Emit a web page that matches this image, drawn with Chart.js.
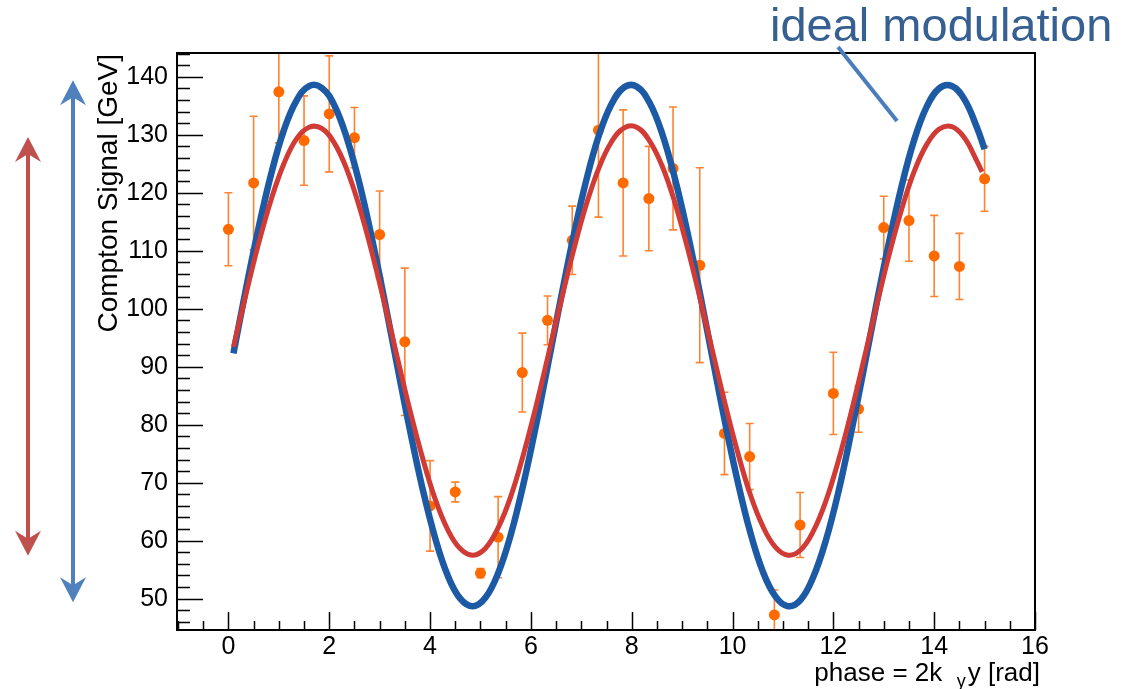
<!DOCTYPE html>
<html>
<head>
<meta charset="utf-8">
<script src="https://cdn.jsdelivr.net/npm/chart.js@4.4.1/dist/chart.umd.min.js"></script>
<style>
  html, body { margin: 0; padding: 0; background: #fff; }
  #box { width: 1130px; height: 689px; }
</style>
</head>
<body>
<div id="box"><canvas id="grafico"></canvas></div>
<script>
// measured points with errors
const dataX = [0, 0.5, 1, 1.5, 2, 2.5, 3, 3.5, 4, 4.5, 5, 5.35, 5.83, 6.33, 6.82, 7.34, 7.83, 8.34, 8.82, 9.35,
    9.84, 10.34, 10.83, 11.34, 12.0, 12.5, 13.0, 13.5, 14.0, 14.5, 15.0];
const dataY = [113.7, 121.7, 137.4, 129.0, 133.6, 129.5, 112.8, 94.3, 66.0, 68.4, 54.4, 60.6, 89.0, 98.0, 111.8, 130.8,
    121.7, 119.0, 124.2, 107.5, 78.5, 74.5, 47.2, 62.7, 85.4, 82.7, 114.0, 115.2, 109.1, 107.3, 122.4];
const dataErr = [6.3, 11.5, 8.8, 7.7, 10.0, 5.2, 7.5, 12.7, 7.8, 1.7, 0.8, 7.0, 6.8, 4.2, 5.9, 15.0,
    12.6, 9.0, 10.6, 16.8, 7.1, 5.7, 4.3, 5.6, 7.1, 4.0, 5.4, 7.0, 7.0, 5.7, 5.6];

// curves
const curveX = [0.1, 0.35, 0.6, 0.85, 1.1, 1.35, 1.6, 1.85, 2.1, 2.35, 2.6, 2.85, 3.1, 3.35, 3.6, 3.85, 4.1, 4.35, 4.6, 4.85,
    5.1, 5.35, 5.6, 5.85, 6.1, 6.35, 6.6, 6.85, 7.1, 7.35, 7.6, 7.85, 8.1, 8.35, 8.6, 8.85, 9.1, 9.35, 9.6, 9.85,
    10.1, 10.35, 10.6, 10.85, 11.1, 11.35, 11.6, 11.85, 12.1, 12.35, 12.6, 12.85, 13.1, 13.35, 13.6, 13.85, 14.1, 14.35, 14.6, 14.85, 15.0];
const idealY = [92.3, 103.5, 114.0, 123.3, 130.8, 135.9, 138.4, 138.1, 135.1, 129.4,
    121.6, 112.0, 101.3, 90.1, 79.1, 69.0, 60.5, 54.0, 50.0, 48.7,
    50.2, 54.4, 61.0, 69.7, 79.8, 90.9, 102.0, 112.7, 122.2, 129.9,
    135.3, 138.2, 138.3, 135.6, 130.3, 122.7, 113.4, 102.8, 91.6, 80.5,
    70.3, 61.5, 54.7, 50.4, 48.7, 49.8, 53.7, 60.0, 68.4, 78.5,
    89.4, 100.6, 111.3, 121.0, 129.0, 134.8, 138.0, 138.4, 136.1, 131.2, 127.5];
const fitY = [93.4, 102.6, 111.3, 118.9, 125.0, 129.3, 131.3, 131.1, 128.6, 124.0,
    117.5, 109.6, 100.8, 91.6, 82.5, 74.3, 67.2, 61.9, 58.6, 57.5,
    58.7, 62.2, 67.6, 74.8, 83.1, 92.2, 101.4, 110.2, 118.0, 124.3,
    128.8, 131.2, 131.3, 129.0, 124.7, 118.5, 110.7, 102.0, 92.8, 83.7,
    75.3, 68.0, 62.5, 58.9, 57.5, 58.4, 61.6, 66.8, 73.8, 82.0,
    91.0, 100.2, 109.1, 117.0, 123.6, 128.3, 131.0, 131.4, 129.5, 125.4, 123.6];

const xTicks = [0, 2, 4, 6, 8, 10, 12, 14, 16];
const yTicks = [50, 60, 70, 80, 90, 100, 110, 120, 130, 140];

// amplitude arrows on the left (top, bottom in GeV)
const fitRange = [129.6, 57.4];
const idealRange = [139.4, 49.4];

const fonte = "'Liberation Sans', Arial, Helvetica, sans-serif";
const azul = '#1d5aa5';
const vermelho = '#d13b36';
const laranja = '#ff6a00';

const toPoints = (xs, ys) => ys.map((y, i) => ({ x: xs[i], y: y }));

const drawArrow = (ctx, x, yTop, yBot, cor) => {
    const len = 25, half = 13, notch = 17;
    ctx.save();
    ctx.strokeStyle = cor;
    ctx.fillStyle = cor;
    ctx.lineWidth = 4;
    ctx.beginPath();
    ctx.moveTo(x, yTop + notch - 2);
    ctx.lineTo(x, yBot - notch + 2);
    ctx.stroke();
    [[yTop, 1], [yBot, -1]].forEach(([y, d]) => {
        ctx.beginPath();
        ctx.moveTo(x, y);
        ctx.lineTo(x - half, y + d * len);
        ctx.lineTo(x, y + d * notch);
        ctx.lineTo(x + half, y + d * len);
        ctx.closePath();
        ctx.fill();
    });
    ctx.restore();
};

const rootStyle = {
    id: 'rootStyle',
    beforeDatasetsDraw(chart) {
        const { ctx, chartArea: a, scales: { x, y } } = chart;
        ctx.save();
        ctx.beginPath();
        ctx.rect(a.left, a.top, a.right - a.left, a.bottom - a.top);
        ctx.clip();
        ctx.strokeStyle = '#ff8330';
        ctx.lineWidth = 1.6;
        dataX.forEach((v, i) => {
            const px = x.getPixelForValue(v);
            const y1 = y.getPixelForValue(dataY[i] + dataErr[i]);
            const y2 = y.getPixelForValue(dataY[i] - dataErr[i]);
            ctx.beginPath();
            ctx.moveTo(px, y1); ctx.lineTo(px, y2);
            ctx.moveTo(px - 4, y1); ctx.lineTo(px + 4, y1);
            ctx.moveTo(px - 4, y2); ctx.lineTo(px + 4, y2);
            ctx.stroke();
        });
        ctx.restore();
    },
    afterDatasetsDraw(chart) {
        const { ctx, chartArea: a, scales: { x, y } } = chart;
        ctx.save();
        ctx.strokeStyle = '#000';
        ctx.lineWidth = 1.5;
        ctx.beginPath();
        for (let v = 46; v <= 144; v += 2) {
            const py = Math.round(y.getPixelForValue(v)) + 0.5;
            const len = v % 10 === 0 ? 26 : 13;
            ctx.moveTo(a.left, py); ctx.lineTo(a.left + len, py);
        }
        for (let v = -1; v <= 16; v += 0.5) {
            const px = Math.round(x.getPixelForValue(v)) + 0.5;
            const len = v % 2 === 0 ? 18 : 9;
            ctx.moveTo(px, a.bottom); ctx.lineTo(px, a.bottom - len);
        }
        ctx.stroke();
        ctx.lineWidth = 2;
        ctx.strokeRect(a.left, a.top, a.right - a.left, a.bottom - a.top);
        ctx.restore();
    },
    afterDraw(chart) {
        const { ctx, chartArea: a, scales: { y } } = chart;
        ctx.save();
        ctx.fillStyle = '#000';
        // y title
        ctx.translate(117, 54);
        ctx.rotate(-Math.PI / 2);
        ctx.font = '28px ' + fonte;
        ctx.textAlign = 'right';
        ctx.textBaseline = 'alphabetic';
        ctx.fillText('Compton Signal [GeV]', 0, 0);
        ctx.restore();

        // x title with subscript
        ctx.save();
        ctx.fillStyle = '#000';
        ctx.textBaseline = 'alphabetic';
        ctx.textAlign = 'left';
        const p1 = 'phase = 2k  ', p2 = 'y', p3 = 'y [rad]';
        ctx.font = '26px ' + fonte;
        const w1 = ctx.measureText(p1).width, w3 = ctx.measureText(p3).width;
        ctx.font = '18px ' + fonte;
        const w2 = ctx.measureText(p2).width;
        let x0 = a.right + 5 - (w1 + w2 + w3 + 2);
        ctx.font = '26px ' + fonte;
        ctx.fillText(p1, x0, 681);
        ctx.font = '18px ' + fonte;
        ctx.fillText(p2, x0 + w1, 687);
        ctx.font = '26px ' + fonte;
        ctx.fillText(p3, x0 + w1 + w2 + 2, 681);
        ctx.restore();

        drawArrow(ctx, 28, y.getPixelForValue(fitRange[0]), y.getPixelForValue(fitRange[1]), '#c0504d');
        drawArrow(ctx, 73, y.getPixelForValue(idealRange[0]), y.getPixelForValue(idealRange[1]), '#4f81bd');

        // annotation
        ctx.save();
        ctx.strokeStyle = '#4a7ebb';
        ctx.lineWidth = 4;
        ctx.beginPath();
        ctx.moveTo(838, 47);
        ctx.lineTo(897, 121);
        ctx.stroke();
        ctx.fillStyle = '#376092';
        ctx.font = '47px ' + fonte;
        ctx.textAlign = 'left';
        ctx.textBaseline = 'alphabetic';
        ctx.fillText('ideal modulation', 770, 41);
        ctx.restore();
    }
};

const ctx = document.getElementById('grafico').getContext('2d');
new Chart(ctx, {
    type: 'scatter',
    data: {
        datasets: [
            {
                label: 'fit',
                data: toPoints(curveX.slice(0, fitY.length - 1).concat([14.95]), fitY),
                showLine: true,
                borderColor: vermelho,
                borderWidth: 5,
                pointRadius: 0,
                tension: 0.4,
                order: 0
            },
            {
                label: 'ideal modulation',
                data: toPoints(curveX, idealY),
                showLine: true,
                borderColor: azul,
                borderWidth: 6.5,
                pointRadius: 0,
                tension: 0.4,
                order: 1
            },
            {
                label: 'data',
                data: toPoints(dataX, dataY),
                backgroundColor: laranja,
                borderColor: laranja,
                pointRadius: 5.5,
                borderWidth: 0,
                order: 2
            }
        ]
    },
    options: {
        responsive: true,
        maintainAspectRatio: false,
        animation: false,
        layout: { padding: { top: 53, right: 95, bottom: 0, left: 0 } },
        plugins: { legend: { display: false }, tooltip: { enabled: false } },
        scales: {
            x: {
                type: 'linear',
                min: -1.02,
                max: 16.0,
                grid: { display: false, drawTicks: false },
                border: { display: false },
                ticks: { color: '#000', font: { family: fonte, size: 25 }, padding: 2 },
                afterBuildTicks: (s) => { s.ticks = xTicks.map((v) => ({ value: v })); },
                afterFit: (s) => { s.height = 59; }
            },
            y: {
                type: 'linear',
                min: 44.6,
                max: 144.1,
                grid: { display: false, drawTicks: false },
                border: { display: false },
                ticks: { color: '#000', font: { family: fonte, size: 25 }, padding: 9 },
                afterBuildTicks: (s) => { s.ticks = yTicks.map((v) => ({ value: v })); },
                afterFit: (s) => { s.width = 177; }
            }
        }
    },
    plugins: [rootStyle]
});
</script>
</body>
</html>
